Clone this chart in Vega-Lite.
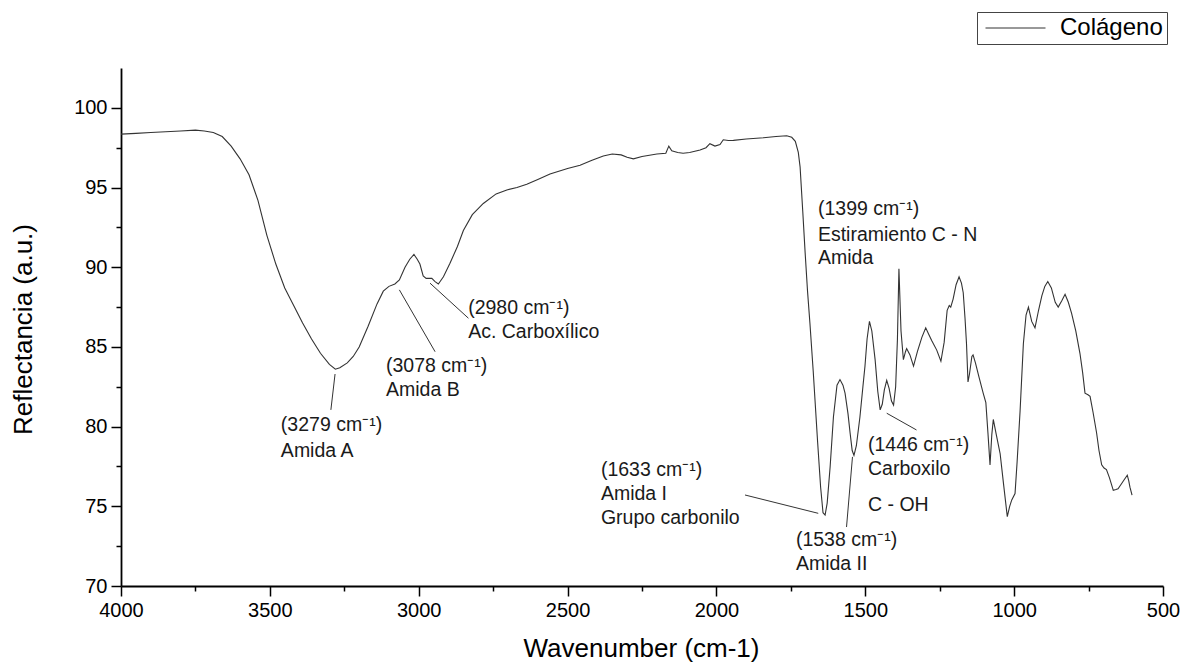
{
  "$schema": "https://vega.github.io/schema/vega-lite/v6.json",
  "width": 1042,
  "height": 518,
  "autosize": {"type": "none"},
  "padding": {"left": 121, "top": 68, "right": 29, "bottom": 83},
  "background": "white",
  "config": {"view": {"stroke": null}, "font": "Liberation Sans"},
  "datasets": {
    "spectrum": [
      {"wavenumber": 4000, "reflectance": 98.35}, {"wavenumber": 3950, "reflectance": 98.4}, {"wavenumber": 3900, "reflectance": 98.45},
      {"wavenumber": 3850, "reflectance": 98.5}, {"wavenumber": 3800, "reflectance": 98.55}, {"wavenumber": 3750, "reflectance": 98.6},
      {"wavenumber": 3720, "reflectance": 98.55}, {"wavenumber": 3690, "reflectance": 98.45}, {"wavenumber": 3660, "reflectance": 98.2},
      {"wavenumber": 3630, "reflectance": 97.6}, {"wavenumber": 3600, "reflectance": 96.8}, {"wavenumber": 3570, "reflectance": 95.8},
      {"wavenumber": 3540, "reflectance": 94.2}, {"wavenumber": 3510, "reflectance": 92.0}, {"wavenumber": 3480, "reflectance": 90.2},
      {"wavenumber": 3450, "reflectance": 88.7}, {"wavenumber": 3420, "reflectance": 87.6}, {"wavenumber": 3390, "reflectance": 86.5},
      {"wavenumber": 3360, "reflectance": 85.5}, {"wavenumber": 3330, "reflectance": 84.6}, {"wavenumber": 3300, "reflectance": 83.9},
      {"wavenumber": 3280, "reflectance": 83.6}, {"wavenumber": 3265, "reflectance": 83.7}, {"wavenumber": 3240, "reflectance": 84.0},
      {"wavenumber": 3220, "reflectance": 84.4}, {"wavenumber": 3200, "reflectance": 85.0}, {"wavenumber": 3170, "reflectance": 86.3},
      {"wavenumber": 3140, "reflectance": 87.7}, {"wavenumber": 3119, "reflectance": 88.5}, {"wavenumber": 3100, "reflectance": 88.8},
      {"wavenumber": 3080, "reflectance": 88.95}, {"wavenumber": 3065, "reflectance": 89.2}, {"wavenumber": 3046, "reflectance": 90.0},
      {"wavenumber": 3030, "reflectance": 90.5}, {"wavenumber": 3016, "reflectance": 90.8}, {"wavenumber": 3005, "reflectance": 90.5},
      {"wavenumber": 2996, "reflectance": 90.2}, {"wavenumber": 2985, "reflectance": 89.45}, {"wavenumber": 2975, "reflectance": 89.3},
      {"wavenumber": 2956, "reflectance": 89.3}, {"wavenumber": 2945, "reflectance": 89.1}, {"wavenumber": 2934, "reflectance": 88.95},
      {"wavenumber": 2917, "reflectance": 89.4}, {"wavenumber": 2895, "reflectance": 90.25}, {"wavenumber": 2870, "reflectance": 91.3},
      {"wavenumber": 2850, "reflectance": 92.3}, {"wavenumber": 2820, "reflectance": 93.3}, {"wavenumber": 2783, "reflectance": 94.0},
      {"wavenumber": 2740, "reflectance": 94.6}, {"wavenumber": 2704, "reflectance": 94.85}, {"wavenumber": 2670, "reflectance": 95.0},
      {"wavenumber": 2637, "reflectance": 95.2}, {"wavenumber": 2600, "reflectance": 95.5}, {"wavenumber": 2559, "reflectance": 95.85},
      {"wavenumber": 2500, "reflectance": 96.2}, {"wavenumber": 2458, "reflectance": 96.4}, {"wavenumber": 2420, "reflectance": 96.7},
      {"wavenumber": 2380, "reflectance": 96.98}, {"wavenumber": 2350, "reflectance": 97.1}, {"wavenumber": 2320, "reflectance": 97.05},
      {"wavenumber": 2300, "reflectance": 96.9}, {"wavenumber": 2279, "reflectance": 96.8}, {"wavenumber": 2250, "reflectance": 96.95},
      {"wavenumber": 2200, "reflectance": 97.1}, {"wavenumber": 2170, "reflectance": 97.15}, {"wavenumber": 2160, "reflectance": 97.6},
      {"wavenumber": 2150, "reflectance": 97.3}, {"wavenumber": 2130, "reflectance": 97.2}, {"wavenumber": 2112, "reflectance": 97.15},
      {"wavenumber": 2090, "reflectance": 97.2}, {"wavenumber": 2055, "reflectance": 97.35}, {"wavenumber": 2035, "reflectance": 97.5},
      {"wavenumber": 2022, "reflectance": 97.75}, {"wavenumber": 2005, "reflectance": 97.6}, {"wavenumber": 1988, "reflectance": 97.7},
      {"wavenumber": 1977, "reflectance": 98.0}, {"wavenumber": 1960, "reflectance": 97.95}, {"wavenumber": 1943, "reflectance": 97.96},
      {"wavenumber": 1900, "reflectance": 98.05}, {"wavenumber": 1842, "reflectance": 98.12}, {"wavenumber": 1800, "reflectance": 98.2},
      {"wavenumber": 1764, "reflectance": 98.25}, {"wavenumber": 1747, "reflectance": 98.15}, {"wavenumber": 1735, "reflectance": 97.9},
      {"wavenumber": 1725, "reflectance": 97.2}, {"wavenumber": 1719, "reflectance": 96.3}, {"wavenumber": 1710, "reflectance": 93.5},
      {"wavenumber": 1702, "reflectance": 90.9}, {"wavenumber": 1694, "reflectance": 88.5}, {"wavenumber": 1686, "reflectance": 86.5},
      {"wavenumber": 1675, "reflectance": 83.5}, {"wavenumber": 1660, "reflectance": 79.0}, {"wavenumber": 1650, "reflectance": 76.2},
      {"wavenumber": 1642, "reflectance": 74.6}, {"wavenumber": 1635, "reflectance": 74.45}, {"wavenumber": 1628, "reflectance": 75.2},
      {"wavenumber": 1618, "reflectance": 77.5}, {"wavenumber": 1607, "reflectance": 80.6}, {"wavenumber": 1595, "reflectance": 82.6},
      {"wavenumber": 1585, "reflectance": 82.95}, {"wavenumber": 1575, "reflectance": 82.6}, {"wavenumber": 1568, "reflectance": 82.1},
      {"wavenumber": 1558, "reflectance": 80.8}, {"wavenumber": 1551, "reflectance": 79.6}, {"wavenumber": 1544, "reflectance": 78.5},
      {"wavenumber": 1538, "reflectance": 78.2}, {"wavenumber": 1530, "reflectance": 78.8}, {"wavenumber": 1518, "reflectance": 80.6},
      {"wavenumber": 1508, "reflectance": 82.5}, {"wavenumber": 1501, "reflectance": 83.8}, {"wavenumber": 1494, "reflectance": 85.5},
      {"wavenumber": 1486, "reflectance": 86.6}, {"wavenumber": 1478, "reflectance": 86.0}, {"wavenumber": 1467, "reflectance": 84.2},
      {"wavenumber": 1458, "reflectance": 82.2}, {"wavenumber": 1450, "reflectance": 81.05}, {"wavenumber": 1443, "reflectance": 81.4},
      {"wavenumber": 1436, "reflectance": 82.3}, {"wavenumber": 1428, "reflectance": 82.9}, {"wavenumber": 1420, "reflectance": 82.4},
      {"wavenumber": 1412, "reflectance": 81.6}, {"wavenumber": 1405, "reflectance": 81.35}, {"wavenumber": 1398, "reflectance": 82.5},
      {"wavenumber": 1392, "reflectance": 85.5}, {"wavenumber": 1387, "reflectance": 89.9}, {"wavenumber": 1380, "reflectance": 86.0},
      {"wavenumber": 1372, "reflectance": 84.2}, {"wavenumber": 1365, "reflectance": 84.7}, {"wavenumber": 1361, "reflectance": 84.9},
      {"wavenumber": 1350, "reflectance": 84.5}, {"wavenumber": 1338, "reflectance": 83.8}, {"wavenumber": 1325, "reflectance": 84.7},
      {"wavenumber": 1310, "reflectance": 85.6}, {"wavenumber": 1297, "reflectance": 86.2}, {"wavenumber": 1287, "reflectance": 85.8},
      {"wavenumber": 1277, "reflectance": 85.4}, {"wavenumber": 1260, "reflectance": 84.8}, {"wavenumber": 1246, "reflectance": 84.1},
      {"wavenumber": 1235, "reflectance": 85.3}, {"wavenumber": 1225, "reflectance": 87.3}, {"wavenumber": 1218, "reflectance": 87.6},
      {"wavenumber": 1213, "reflectance": 87.5}, {"wavenumber": 1205, "reflectance": 88.0}, {"wavenumber": 1195, "reflectance": 88.9},
      {"wavenumber": 1185, "reflectance": 89.4}, {"wavenumber": 1177, "reflectance": 89.0}, {"wavenumber": 1171, "reflectance": 88.4},
      {"wavenumber": 1165, "reflectance": 86.8}, {"wavenumber": 1160, "reflectance": 85.2}, {"wavenumber": 1155, "reflectance": 82.8},
      {"wavenumber": 1150, "reflectance": 83.3}, {"wavenumber": 1142, "reflectance": 84.4}, {"wavenumber": 1138, "reflectance": 84.5},
      {"wavenumber": 1130, "reflectance": 84.0}, {"wavenumber": 1118, "reflectance": 83.1}, {"wavenumber": 1104, "reflectance": 82.1},
      {"wavenumber": 1095, "reflectance": 81.5}, {"wavenumber": 1088, "reflectance": 79.6}, {"wavenumber": 1081, "reflectance": 77.6},
      {"wavenumber": 1075, "reflectance": 79.5}, {"wavenumber": 1070, "reflectance": 80.45}, {"wavenumber": 1060, "reflectance": 79.5},
      {"wavenumber": 1047, "reflectance": 78.3}, {"wavenumber": 1035, "reflectance": 76.3}, {"wavenumber": 1023, "reflectance": 74.35},
      {"wavenumber": 1015, "reflectance": 75.0}, {"wavenumber": 1008, "reflectance": 75.4}, {"wavenumber": 997, "reflectance": 75.8},
      {"wavenumber": 990, "reflectance": 77.8}, {"wavenumber": 980, "reflectance": 81.0}, {"wavenumber": 969, "reflectance": 85.2},
      {"wavenumber": 960, "reflectance": 87.0}, {"wavenumber": 952, "reflectance": 87.5}, {"wavenumber": 941, "reflectance": 86.6},
      {"wavenumber": 930, "reflectance": 86.2}, {"wavenumber": 918, "reflectance": 87.3}, {"wavenumber": 907, "reflectance": 88.2},
      {"wavenumber": 897, "reflectance": 88.8}, {"wavenumber": 887, "reflectance": 89.1}, {"wavenumber": 875, "reflectance": 88.7},
      {"wavenumber": 862, "reflectance": 87.8}, {"wavenumber": 852, "reflectance": 87.5}, {"wavenumber": 840, "reflectance": 87.9},
      {"wavenumber": 829, "reflectance": 88.3}, {"wavenumber": 818, "reflectance": 87.8}, {"wavenumber": 807, "reflectance": 87.1},
      {"wavenumber": 793, "reflectance": 86.0}, {"wavenumber": 779, "reflectance": 84.6}, {"wavenumber": 770, "reflectance": 83.4},
      {"wavenumber": 762, "reflectance": 82.1}, {"wavenumber": 752, "reflectance": 82.0}, {"wavenumber": 745, "reflectance": 81.9},
      {"wavenumber": 735, "reflectance": 80.9}, {"wavenumber": 723, "reflectance": 79.6}, {"wavenumber": 715, "reflectance": 78.5},
      {"wavenumber": 706, "reflectance": 77.6}, {"wavenumber": 698, "reflectance": 77.4}, {"wavenumber": 690, "reflectance": 77.3},
      {"wavenumber": 680, "reflectance": 76.8}, {"wavenumber": 667, "reflectance": 76.0}, {"wavenumber": 658, "reflectance": 76.05},
      {"wavenumber": 651, "reflectance": 76.1}, {"wavenumber": 640, "reflectance": 76.4}, {"wavenumber": 631, "reflectance": 76.65},
      {"wavenumber": 620, "reflectance": 76.95}, {"wavenumber": 615, "reflectance": 76.6}, {"wavenumber": 611, "reflectance": 76.2},
      {"wavenumber": 604, "reflectance": 75.7}
    ],
    "leaders": [
      {"x1": 3281, "y1": 83.3, "x2": 3295, "y2": 81.05},
      {"x1": 3065, "y1": 88.58, "x2": 2945, "y2": 84.7},
      {"x1": 2962, "y1": 89.0, "x2": 2833, "y2": 86.8},
      {"x1": 1428, "y1": 80.84, "x2": 1328, "y2": 79.79},
      {"x1": 1543, "y1": 78.1, "x2": 1563, "y2": 73.7},
      {"x1": 1904, "y1": 75.71, "x2": 1658, "y2": 74.56}
    ],
    "labels": [
      {"x": 3463, "y": 80.1, "text": "(3279 cm⁻¹)"},
      {"x": 3463, "y": 78.47, "text": "Amida A"},
      {"x": 3110, "y": 83.81, "text": "(3078 cm⁻¹)"},
      {"x": 3110, "y": 82.3, "text": "Amida B"},
      {"x": 2834, "y": 87.45, "text": "(2980 cm⁻¹)"},
      {"x": 2834, "y": 85.94, "text": "Ac. Carboxílico"},
      {"x": 1659, "y": 93.67, "text": "(1399 cm⁻¹)"},
      {"x": 1659, "y": 92.03, "text": "Estiramiento C - N"},
      {"x": 1659, "y": 90.59, "text": "Amida"},
      {"x": 1491, "y": 78.85, "text": "(1446 cm⁻¹)"},
      {"x": 1491, "y": 77.34, "text": "Carboxilo"},
      {"x": 1491, "y": 75.08, "text": "C - OH"},
      {"x": 1733, "y": 72.89, "text": "(1538 cm⁻¹)"},
      {"x": 1733, "y": 71.38, "text": "Amida II"},
      {"x": 2388, "y": 77.28, "text": "(1633 cm⁻¹)"},
      {"x": 2388, "y": 75.78, "text": "Amida I"},
      {"x": 2388, "y": 74.27, "text": "Grupo carbonilo"}
    ]
  },
  "layer": [
    {
      "data": {"name": "spectrum"},
      "mark": {"type": "line", "strokeWidth": 1.1},
      "encoding": {
        "x": {
          "field": "wavenumber", "type": "quantitative",
          "scale": {"domain": [500, 4000], "reverse": true, "nice": false, "zero": false},
          "axis": {
            "values": [4000, 3750, 3500, 3250, 3000, 2750, 2500, 2250, 2000, 1750, 1500, 1250, 1000, 750, 500],
            "format": "d",
            "labelExpr": "datum.value % 500 === 0 ? datum.label : ''",
            "tickSize": {"condition": {"test": "datum.value % 500 === 0", "value": 10}, "value": 5},
            "title": "Wavenumber (cm-1)",
            "titleFontSize": 26, "titleFontWeight": "normal", "titleColor": "black",
            "titleX": 520, "titleY": 62, "titleBaseline": "middle", "titleAlign": "center",
            "labelFontSize": 20, "labelColor": "black", "labelPadding": 4,
            "labelFlush": false, "labelOverlap": false,
            "domainColor": "black", "domainWidth": 1.8,
            "tickColor": "black", "tickWidth": 1.5, "grid": false
          }
        },
        "y": {
          "field": "reflectance", "type": "quantitative",
          "scale": {"domain": [70, 102.5], "nice": false, "zero": false},
          "axis": {
            "values": [70, 72.5, 75, 77.5, 80, 82.5, 85, 87.5, 90, 92.5, 95, 97.5, 100],
            "format": "d",
            "labelExpr": "datum.value % 5 === 0 ? datum.label : ''",
            "tickSize": {"condition": {"test": "datum.value % 5 === 0", "value": 10}, "value": 5},
            "title": "Reflectancia (a.u.)",
            "titleFontSize": 26, "titleFontWeight": "normal", "titleColor": "black",
            "titleX": -98, "titleY": 261, "titleBaseline": "middle", "titleAlign": "center", "titleAngle": 270,
            "labelFontSize": 20, "labelColor": "black", "labelPadding": 4,
            "labelFlush": false, "labelOverlap": false,
            "domainColor": "black", "domainWidth": 1.8,
            "tickColor": "black", "tickWidth": 1.5, "grid": false
          }
        },
        "color": {
          "datum": "Colágeno", "type": "nominal",
          "scale": {"range": ["#333333"]},
          "legend": {
            "orient": "none", "legendX": 856, "legendY": -56, "title": null,
            "symbolType": "M-1,0H7", "symbolSize": 225, "symbolStrokeWidth": 1,
            "symbolStrokeColor": "#666666", "symbolFillColor": "transparent",
            "labelFontSize": 24, "labelColor": "black", "labelOffset": 55,
            "strokeColor": "#444444", "fillColor": "white", "padding": 4
          }
        }
      }
    },
    {
      "data": {"name": "leaders"},
      "mark": {"type": "rule", "color": "#333333", "strokeWidth": 1},
      "encoding": {
        "x": {"field": "x1", "type": "quantitative"},
        "y": {"field": "y1", "type": "quantitative"},
        "x2": {"field": "x2"},
        "y2": {"field": "y2"}
      }
    },
    {
      "data": {"name": "labels"},
      "mark": {"type": "text", "align": "left", "baseline": "middle", "fontSize": 19.5, "color": "#1a1a1a"},
      "encoding": {
        "x": {"field": "x", "type": "quantitative"},
        "y": {"field": "y", "type": "quantitative"},
        "text": {"field": "text"}
      }
    }
  ]
}
